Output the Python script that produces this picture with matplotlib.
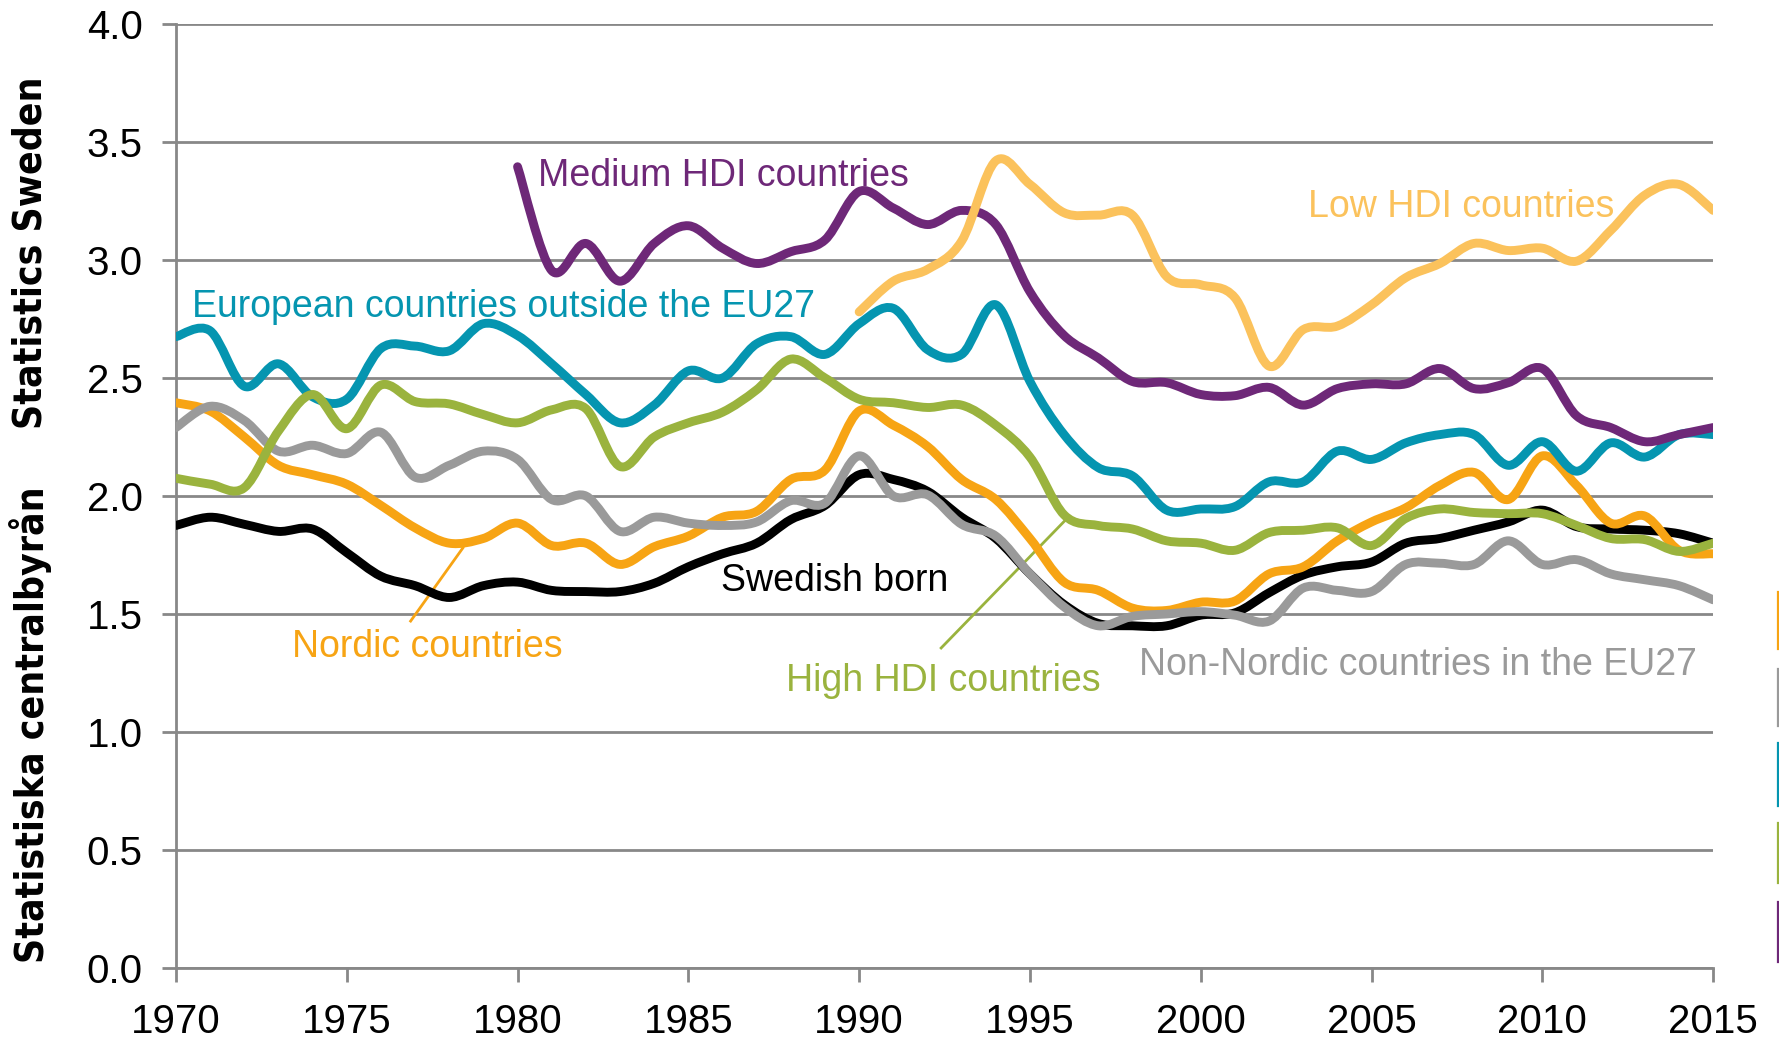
import numpy as np
import matplotlib
matplotlib.use("Agg")
import matplotlib.pyplot as plt
from matplotlib.path import Path
from matplotlib.patches import PathPatch
from matplotlib.lines import Line2D

plt.rcParams['font.family'] = ['Liberation Sans', 'DejaVu Sans']

years = list(range(1970, 2016))

swedish_born = [1.875, 1.91, 1.88, 1.85, 1.86, 1.76, 1.66, 1.62, 1.57, 1.62,
                1.635, 1.60, 1.595, 1.595, 1.63, 1.70, 1.755, 1.80, 1.90, 1.96,
                2.09, 2.07, 2.02, 1.91, 1.82, 1.67, 1.54, 1.46, 1.45, 1.45,
                1.495, 1.505, 1.59, 1.665, 1.70, 1.72, 1.80, 1.82, 1.855, 1.89,
                1.94, 1.87, 1.86, 1.855, 1.84, 1.80]

nordic = [2.395, 2.36, 2.25, 2.13, 2.09, 2.05, 1.96, 1.865, 1.80, 1.82,
          1.885, 1.79, 1.80, 1.71, 1.785, 1.83, 1.91, 1.935, 2.07, 2.11,
          2.36, 2.30, 2.21, 2.07, 1.985, 1.82, 1.635, 1.60, 1.525, 1.515,
          1.55, 1.555, 1.67, 1.70, 1.81, 1.89, 1.95, 2.045, 2.10, 1.985,
          2.17, 2.045, 1.885, 1.915, 1.77, 1.755]

non_nordic_eu27 = [2.29, 2.38, 2.32, 2.19, 2.215, 2.18, 2.27, 2.08, 2.13, 2.19,
                   2.155, 1.985, 2.00, 1.85, 1.91, 1.885, 1.875, 1.89, 1.98, 1.97,
                   2.17, 2.00, 2.005, 1.88, 1.83, 1.67, 1.53, 1.45, 1.49, 1.50,
                   1.51, 1.495, 1.47, 1.61, 1.60, 1.595, 1.71, 1.715, 1.71, 1.81,
                   1.71, 1.73, 1.67, 1.645, 1.62, 1.56]

europe_outside_eu27 = [2.675, 2.70, 2.465, 2.56, 2.42, 2.41, 2.625, 2.635, 2.615, 2.73,
                       2.68, 2.56, 2.43, 2.31, 2.385, 2.53, 2.50, 2.645, 2.675, 2.60,
                       2.73, 2.795, 2.62, 2.60, 2.81, 2.485, 2.26, 2.12, 2.085, 1.94,
                       1.945, 1.955, 2.06, 2.06, 2.19, 2.155, 2.225, 2.26, 2.26, 2.13,
                       2.23, 2.105, 2.225, 2.165, 2.26, 2.26]

high_hdi = [2.075, 2.05, 2.035, 2.275, 2.43, 2.285, 2.47, 2.40, 2.39, 2.345,
            2.31, 2.365, 2.37, 2.125, 2.25, 2.31, 2.355, 2.45, 2.58, 2.50,
            2.41, 2.395, 2.375, 2.385, 2.30, 2.165, 1.92, 1.875, 1.86, 1.81,
            1.80, 1.77, 1.845, 1.855, 1.865, 1.79, 1.905, 1.945, 1.93, 1.925,
            1.925, 1.875, 1.82, 1.815, 1.765, 1.80]

medium_years = list(range(1980, 2016))
medium_hdi = [3.395, 2.955, 3.07, 2.91, 3.07, 3.145, 3.05, 2.985, 3.035, 3.085,
              3.29, 3.22, 3.15, 3.21, 3.15, 2.865, 2.68, 2.585, 2.485, 2.48,
              2.43, 2.425, 2.46, 2.385, 2.455, 2.475, 2.475, 2.54, 2.455, 2.48,
              2.54, 2.34, 2.29, 2.23, 2.26, 2.29]

low_years = list(range(1990, 2016))
low_hdi = [2.78, 2.91, 2.96, 3.08, 3.42, 3.32, 3.20, 3.19, 3.19, 2.93,
           2.895, 2.84, 2.55, 2.705, 2.72, 2.81, 2.925, 2.985, 3.07, 3.04,
           3.05, 2.995, 3.125, 3.275, 3.32, 3.21]

c_black = '#000000'
c_orange = '#F7A414'
c_gray = '#9A9A9A'
c_teal = '#0595B0'
c_green = '#9AB33E'
c_purple = '#6E2878'
c_lightorange = '#FBC25C'


def smooth_path(x, y):
    # Catmull-Rom style bezier segments through the data points (like Excel smoothed lines)
    x = np.asarray(x, float)
    y = np.asarray(y, float)
    n = len(x)
    verts = [(x[0], y[0])]
    codes = [Path.MOVETO]
    for i in range(n - 1):
        p0 = i - 1 if i > 0 else i
        p3 = i + 2 if i + 2 < n else i + 1
        c1 = (x[i] + (x[i + 1] - x[p0]) / 6, y[i] + (y[i + 1] - y[p0]) / 6)
        c2 = (x[i + 1] - (x[p3] - x[i]) / 6, y[i + 1] - (y[p3] - y[i]) / 6)
        verts += [c1, c2, (x[i + 1], y[i + 1])]
        codes += [Path.CURVE4] * 3
    return Path(verts, codes)


fig = plt.figure(figsize=(17.79, 10.41), dpi=100)
ax = fig.add_axes([0.0989, 0.0701, 0.8641, 0.9069])

series = [
    (years, swedish_born, c_black),
    (years, nordic, c_orange),
    (years, non_nordic_eu27, c_gray),
    (years, europe_outside_eu27, c_teal),
    (years, high_hdi, c_green),
    (medium_years, medium_hdi, c_purple),
    (low_years, low_hdi, c_lightorange),
]
for xs, ys, col in series:
    patch = PathPatch(smooth_path(xs, ys), facecolor='none', edgecolor=col,
                      lw=6.4, capstyle='round', joinstyle='round', zorder=3)
    ax.add_patch(patch)

ax.set_xlim(1970, 2015)
ax.set_ylim(0, 4)
ax.set_xticks(range(1970, 2016, 5))
ax.set_yticks(np.arange(0, 4.01, 0.5))
ax.set_yticklabels([f'{v:.1f}' for v in np.arange(0, 4.01, 0.5)])
ax.grid(axis='y', color='#888888', lw=2)
ax.set_axisbelow(True)
for s in ['top', 'right']:
    ax.spines[s].set_visible(False)
for s in ['left', 'bottom']:
    ax.spines[s].set_color('#888888')
    ax.spines[s].set_linewidth(2)
ax.tick_params(axis='both', colors='#888888', labelcolor='black', labelsize=29,
               width=2, length=10)
ax.tick_params(axis='y', pad=14)
ax.tick_params(axis='x', pad=15)

fs = 27
ax.text(1980.6, 3.356, 'Medium HDI countries', color=c_purple, fontsize=fs, va='center')
ax.text(2003.15, 3.226, 'Low HDI countries', color=c_lightorange, fontsize=fs, va='center')
ax.text(1970.46, 2.80, 'European countries outside the EU27', color=c_teal, fontsize=fs, va='center')
ax.text(1985.97, 1.64, 'Swedish born', color=c_black, fontsize=fs, va='center')
ax.text(1973.4, 1.36, 'Nordic countries', color=c_orange, fontsize=fs, va='center')
ax.text(1987.87, 1.216, 'High HDI countries', color=c_green, fontsize=fs, va='center')
ax.text(1998.2, 1.284, 'Non-Nordic countries in the EU27', color=c_gray, fontsize=fs, va='center')

# leader lines
ax.plot([1976.87, 1978.4], [1.47, 1.78], color=c_orange, lw=2, zorder=2)
ax.plot([1992.4, 1996.14], [1.356, 1.913], color=c_green, lw=2, zorder=2)

# rotated source text
ylab_props = dict(rotation=90, fontsize=28, fontweight='bold', va='center', ha='center',
                  family=['DejaVu Sans'], fontstretch='condensed')
fig.text(0.0172, 0.3035, 'Statistiska centralbyrån', **ylab_props)
fig.text(0.0172, 0.7574, 'Statistics Sweden', **ylab_props)

# cut-off legend keys at the right edge
bars = [(592, 649, c_orange), (669, 726, c_gray), (743, 806, c_teal),
        (823, 883, c_green), (902, 962, c_purple)]
for y0, y1, col in bars:
    fig.add_artist(Line2D([0.9993, 0.9993], [1 - y0 / 1041, 1 - y1 / 1041],
                          color=col, lw=1.6, transform=fig.transFigure))

fig.savefig('out.png', dpi=100)
